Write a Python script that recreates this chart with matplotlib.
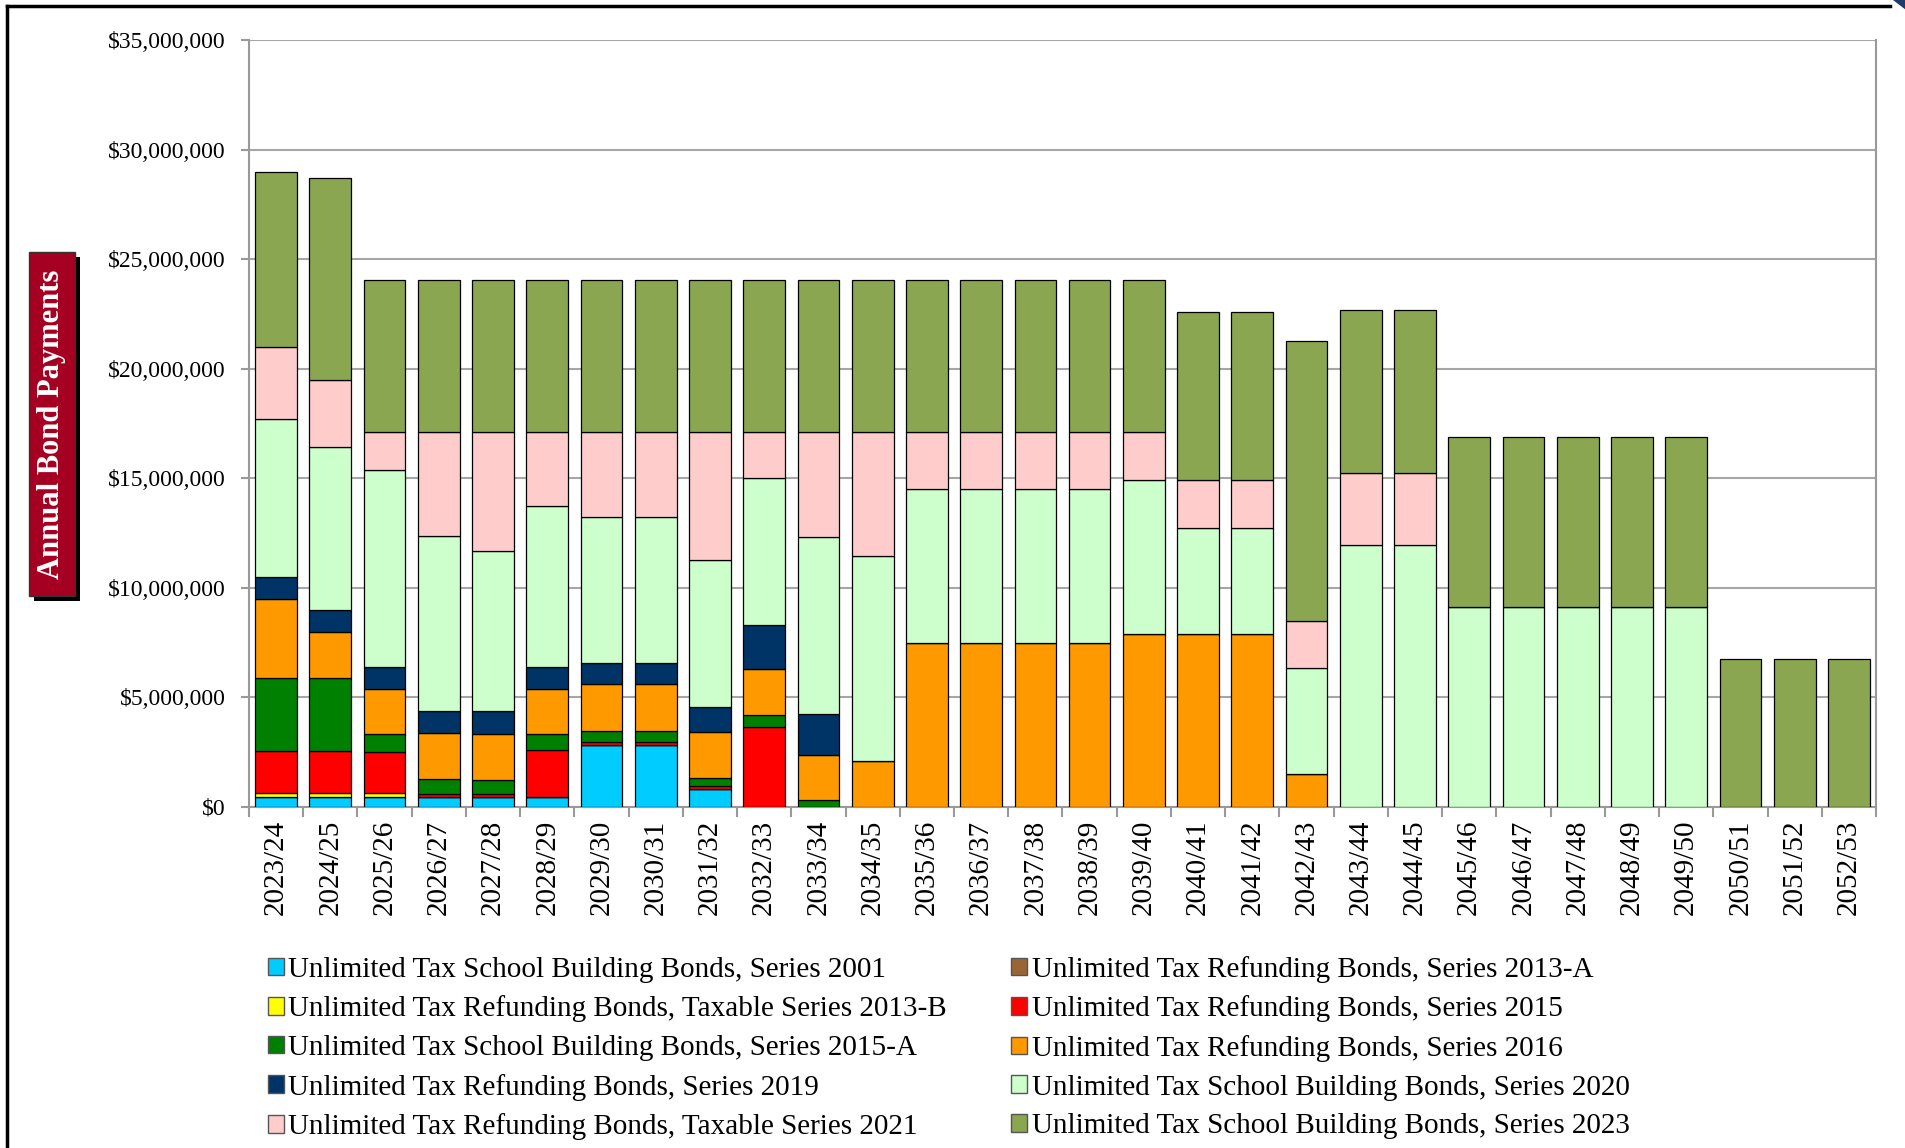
import matplotlib
matplotlib.use("Agg")
import matplotlib.pyplot as plt
import numpy as np
from matplotlib.patches import Rectangle, Patch, Polygon
from matplotlib.lines import Line2D
from matplotlib.ticker import FuncFormatter, MultipleLocator, FixedLocator

plt.rcParams['font.family'] = ['Liberation Serif', 'DejaVu Serif']

years = ["2023/24", "2024/25", "2025/26", "2026/27", "2027/28", "2028/29", "2029/30",
         "2030/31", "2031/32", "2032/33", "2033/34", "2034/35", "2035/36", "2036/37",
         "2037/38", "2038/39", "2039/40", "2040/41", "2041/42", "2042/43", "2043/44",
         "2044/45", "2045/46", "2046/47", "2047/48", "2048/49", "2049/50", "2050/51",
         "2051/52", "2052/53"]

# values in $ millions
s2001 = [0.46, 0.46, 0.46, 0.46, 0.46, 0.47, 2.82, 2.82, 0.80, 0, 0, 0, 0, 0, 0, 0, 0,
         0, 0, 0, 0, 0, 0, 0, 0, 0, 0, 0, 0, 0]
s2013a = [0] * 30
s2013b = [0.18, 0.18, 0.18, 0, 0, 0, 0, 0, 0, 0, 0, 0, 0, 0, 0, 0, 0,
          0, 0, 0, 0, 0, 0, 0, 0, 0, 0, 0, 0, 0]
s2015 = [1.91, 1.91, 1.89, 0.13, 0.13, 2.11, 0.15, 0.15, 0.16, 3.63, 0, 0, 0, 0, 0, 0, 0,
         0, 0, 0, 0, 0, 0, 0, 0, 0, 0, 0, 0, 0]
s2015a = [3.32, 3.32, 0.78, 0.69, 0.66, 0.73, 0.51, 0.51, 0.38, 0.56, 0.30, 0, 0, 0, 0, 0, 0,
          0, 0, 0, 0, 0, 0, 0, 0, 0, 0, 0, 0, 0]
s2016 = [3.61, 2.10, 2.09, 2.10, 2.10, 2.09, 2.11, 2.11, 2.09, 2.09, 2.09, 2.09, 7.47, 7.47,
         7.47, 7.47, 7.90, 7.90, 7.90, 1.50, 0, 0, 0, 0, 0, 0, 0, 0, 0, 0]
s2019 = [1.01, 1.01, 0.99, 1.00, 1.01, 0.99, 0.98, 0.98, 1.14, 2.03, 1.85, 0, 0, 0, 0, 0, 0,
         0, 0, 0, 0, 0, 0, 0, 0, 0, 0, 0, 0, 0]
s2020 = [7.22, 7.45, 8.98, 8.00, 7.32, 7.33, 6.68, 6.68, 6.70, 6.71, 8.06, 9.36, 7.04, 7.04,
         7.04, 7.04, 7.04, 4.85, 4.85, 4.86, 11.96, 11.96, 9.12, 9.12, 9.12, 9.12, 9.12, 0, 0, 0]
s2021 = [3.29, 3.07, 1.73, 4.72, 5.42, 3.38, 3.85, 3.85, 5.83, 2.08, 4.80, 5.65, 2.59, 2.59,
         2.59, 2.59, 2.16, 2.15, 2.15, 2.14, 3.26, 3.26, 0, 0, 0, 0, 0, 0, 0, 0]
s2023 = [7.99, 9.22, 6.96, 6.96, 6.96, 6.96, 6.96, 6.96, 6.96, 6.96, 6.96, 6.96, 6.96, 6.96,
         6.96, 6.96, 6.96, 7.69, 7.69, 12.78, 7.45, 7.45, 7.76, 7.76, 7.76, 7.76, 7.76, 6.76,
         6.76, 6.76]

series_labels = [
    "Unlimited Tax School Building Bonds, Series 2001",
    "Unlimited Tax Refunding Bonds, Series 2013-A",
    "Unlimited Tax Refunding Bonds, Taxable Series 2013-B",
    "Unlimited Tax Refunding Bonds, Series 2015",
    "Unlimited Tax School Building Bonds, Series 2015-A",
    "Unlimited Tax Refunding Bonds, Series 2016",
    "Unlimited Tax Refunding Bonds, Series 2019",
    "Unlimited Tax School Building Bonds, Series 2020",
    "Unlimited Tax Refunding Bonds, Taxable Series 2021",
    "Unlimited Tax School Building Bonds, Series 2023",
]
series_values = [s2001, s2013a, s2013b, s2015, s2015a, s2016, s2019, s2020, s2021, s2023]
colors = ["#00CCFF", "#996633", "#FFFF00", "#FF0000", "#008000", "#FF9900",
          "#003366", "#CCFFCC", "#FFCCCC", "#8BA650"]

W, H = 1906, 1148
fig = plt.figure(figsize=(W / 100, H / 100), dpi=100)
ax = fig.add_axes([249 / W, 1 - 807 / H, (1876 - 249) / W, (807 - 40) / H])

x = np.arange(len(years))
bottom = np.zeros(len(years))
for vals, col in zip(series_values, colors):
    v = np.array(vals) * 1e6
    ax.bar(x, v, bottom=bottom, width=0.77, color=col, edgecolor="black",
           linewidth=0.9, zorder=3)
    bottom += v

ax.set_xlim(-0.5, len(years) - 0.5)
ax.set_ylim(0, 35e6)
ax.yaxis.set_major_locator(MultipleLocator(5e6))
ax.yaxis.set_major_formatter(FuncFormatter(lambda v, p: f"${v:,.0f}"))
ax.grid(axis="y", color="#A6A6A6", linewidth=1.5, zorder=0)
ax.set_axisbelow(True)

ax.set_xticks(x)
ax.set_xticklabels(years, rotation=90, fontsize=21)
ax.xaxis.set_minor_locator(FixedLocator(np.arange(-0.5, len(years), 1.0)))
ax.tick_params(axis="x", which="major", length=0, pad=9)
ax.tick_params(axis="x", which="minor", length=7, width=1.5, color="#999999")
ax.tick_params(axis="y", which="major", length=6, width=1.5, color="#999999",
               labelsize=17, pad=11)

for side in ["left", "right", "bottom"]:
    ax.spines[side].set_color("#999999")
    ax.spines[side].set_linewidth(1.5)
ax.spines["top"].set_visible(False)

# legend, filled row by row
order = [0, 2, 4, 6, 8, 1, 3, 5, 7, 9]
handles = [Patch(facecolor=colors[i], edgecolor="#555555", linewidth=1.0) for i in order]
labels = [series_labels[i] for i in order]
fig.legend(handles, labels, ncol=2, loc="upper left",
           bbox_to_anchor=(268 / W, 1 - 956 / H), frameon=False, fontsize=21,
           handlelength=0.55, handleheight=0.55, handletextpad=0.15,
           labelspacing=0.43, columnspacing=2.2, borderpad=0, borderaxespad=0)

# y-axis title box with shadow
bx0, bx1, by0, by1 = 29, 75, 252, 596
fig.patches.append(Rectangle(((bx0 + 5) / W, 1 - (by1 + 5) / H), (bx1 - bx0) / W,
                             (by1 - by0) / H, transform=fig.transFigure,
                             facecolor="black", edgecolor="none", zorder=1))
fig.patches.append(Rectangle((bx0 / W, 1 - by1 / H), (bx1 - bx0) / W, (by1 - by0) / H,
                             transform=fig.transFigure, facecolor="#A50021",
                             edgecolor="#333333", linewidth=1, zorder=2))
fig.text((bx0 + bx1) / 2 / W, 1 - (by0 + by1) / 2 / H, "Annual Bond Payments",
         rotation=90, ha="center", va="center", color="white", fontsize=22,
         fontweight="bold", zorder=3)

# outer frame lines
fig.lines.append(Line2D([7 / W, 1890 / W], [1 - 6 / H, 1 - 6 / H],
                        transform=fig.transFigure, color="black", linewidth=2.5))
fig.lines.append(Line2D([7 / W, 7 / W], [1 - 6 / H, 0],
                        transform=fig.transFigure, color="black", linewidth=2.5))
fig.patches.append(Polygon([(1893 / W, 1.0), (1906 / W, 1.0), (1906 / W, 1 - 10 / H)],
                           closed=True, transform=fig.transFigure,
                           facecolor="#1F3B6B", edgecolor="none"))

fig.savefig("out.png", dpi=100)
